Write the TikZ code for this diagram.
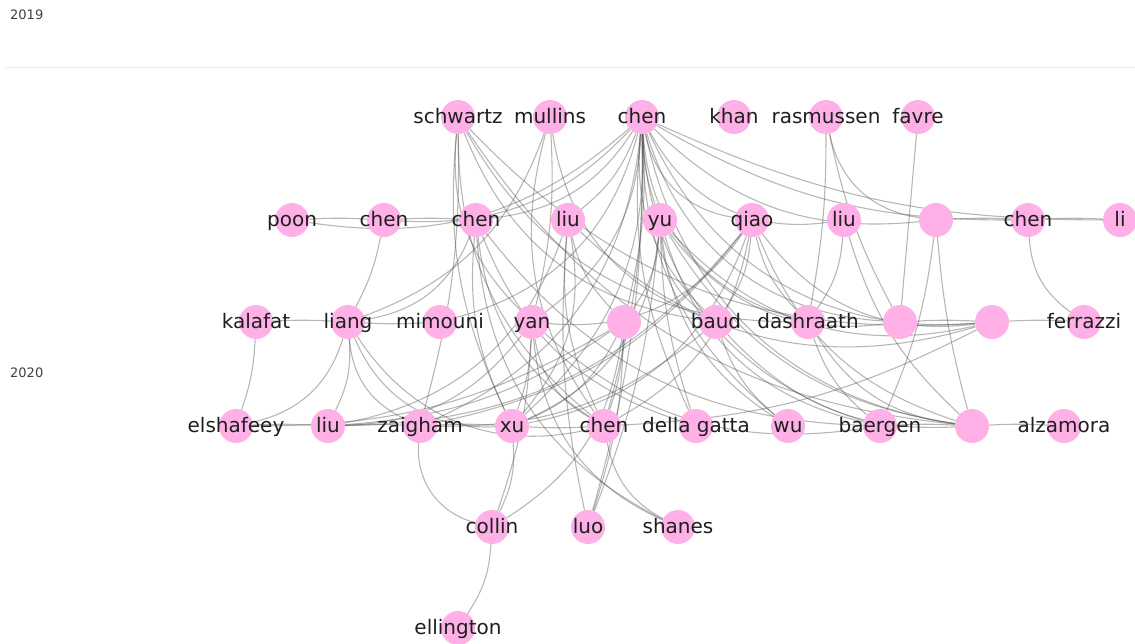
\documentclass[tikz,border=0pt]{standalone}
\usepackage{fontspec}
\setmainfont{DejaVu Sans}
\usetikzlibrary{backgrounds}
\definecolor{authorpink}{HTML}{FFB0E6}
\tikzstyle{author}=[
	circle,
	fill=authorpink,
	minimum size=34pt,
	inner sep=0pt
]
\tikzstyle{every label}=[
	font=\fontsize{20}{23}\selectfont,
	text=black!88,
	text height=1.5ex,
	text depth=.3ex,
	inner sep=0pt,
	yshift=-3pt
]
\tikzstyle{link}=[
	draw=black!70,
	opacity=0.4,
	line width=1.1pt
]
\tikzstyle{year}=[
	font=\fontsize{13}{15}\selectfont,
	text=black!75,
	anchor=west,
	inner sep=0pt
]

\begin{document}
\begin{tikzpicture}[x=1pt, y=-1pt, bend angle=35]
\useasboundingbox (0,0) rectangle (1135,643);
\node [year] (y2019) at (10,15) {2019};
\node [year] (y2020) at (10,373) {2020};
\draw [black!8, line width=1pt] (5,67) -- (1135,67);

% 2019
\node [author, label=center:schwartz] (schwartz) at (458,117) {};
\node [author, label=center:mullins] (mullins) at (550,117) {};
\node [author, label=center:chen] (chen1) at (642,117) {};
\node [author, label=center:khan] (khan) at (734,117) {};
\node [author, label=center:rasmussen] (rasmussen) at (826,117) {};
\node [author, label=center:favre] (favre) at (918,117) {};

\node [author, label=center:poon] (poon) at (292,220) {};
\node [author, label=center:chen] (chen2) at (384,220) {};
\node [author, label=center:chen] (chen3) at (476,220) {};
\node [author, label=center:liu] (liu1) at (568,220) {};
\node [author, label=center:yu] (yu) at (660,220) {};
\node [author, label=center:qiao] (qiao) at (752,220) {};
\node [author, label=center:liu] (liu2) at (844,220) {};
\node [author] (anon1) at (936,220) {};
\node [author, label=center:chen] (chen4) at (1028,220) {};
\node [author, label=center:li] (li) at (1120,220) {};

% 2020
\node [author, label=center:kalafat] (kalafat) at (256,322) {};
\node [author, label=center:liang] (liang) at (348,322) {};
\node [author, label=center:mimouni] (mimouni) at (440,322) {};
\node [author, label=center:yan] (yan) at (532,322) {};
\node [author] (anon2) at (624,322) {};
\node [author, label=center:baud] (baud) at (716,322) {};
\node [author, label=center:dashraath] (dashraath) at (808,322) {};
\node [author] (anon3) at (900,322) {};
\node [author] (anon4) at (992,322) {};
\node [author, label=center:ferrazzi] (ferrazzi) at (1084,322) {};

\node [author, label=center:elshafeey] (elshafeey) at (236,426) {};
\node [author, label=center:liu] (liu3) at (328,426) {};
\node [author, label=center:zaigham] (zaigham) at (420,426) {};
\node [author, label=center:xu] (xu) at (512,426) {};
\node [author, label=center:chen] (chen5) at (604,426) {};
\node [author, label=center:della gatta] (dellagatta) at (696,426) {};
\node [author, label=center:wu] (wu) at (788,426) {};
\node [author, label=center:baergen] (baergen) at (880,426) {};
\node [author] (anon5) at (972,426) {};
\node [author, label=center:alzamora] (alzamora) at (1064,426) {};

\node [author, label=center:collin] (collin) at (492,527) {};
\node [author, label=center:luo] (luo) at (588,527) {};
\node [author, label=center:shanes] (shanes) at (678,527) {};
\node [author, label=center:ellington] (ellington) at (458,628) {};

\begin{pgfonlayer}{background}
\path [link] (chen1)
	edge [bend left=25] (poon)
	edge [bend left=25] (chen2)
	edge [bend left=25] (chen3)
	edge [bend left=15] (liu1)
	edge [bend left=30] (mimouni)
	edge [bend left=25] (yan)
	edge [bend left=25] (xu)
	edge [bend left=30] (zaigham)
	edge [bend left=8] (anon2)
	edge [bend left=8] (chen5)
	edge [bend left=8] (luo)
	edge [bend right=8] (yu)
	edge [bend right] (qiao)
	edge [bend right] (liu2)
	edge [bend right=25] (anon1)
	edge [bend right=15] (chen4)
	edge [bend right=12] (li)
	edge [bend right=25] (baud)
	edge [bend right] (dashraath)
	edge [bend right] (anon3)
	edge [bend right] (anon4)
	edge [bend right=15] (dellagatta)
	edge [bend right=25] (wu)
	edge [bend right] (baergen)
	edge [bend right] (anon5);
\path [link] (schwartz)
	edge [bend right=15] (xu)
	edge [bend right=25] (yan)
	edge [bend right=25] (chen5)
	edge [bend right=30] (baud)
	edge [bend right=30] (dashraath)
	edge [bend right=25] (anon4)
	edge [bend right=25] (anon5)
	edge [bend left=8] (zaigham);
\path [link] (mullins)
	edge [bend left=25] (liang)
	edge [bend left=8] (yan)
	edge [bend right=30] (baud)
	edge [bend right=25] (chen5);
\path [link] (rasmussen)
	edge [bend left=5] (dashraath)
	edge [bend right] (anon1)
	edge [bend right=8] (anon3);
\path [link] (favre) edge (anon3);

\path [link] (poon) edge [bend left=3] (chen2);
\path [link] (chen2)
	edge [bend left=3] (chen3)
	edge [bend left=8] (liang);
\path [link] (chen3)
	edge [bend left=30] (liang)
	edge [bend right=15] (xu)
	edge [bend right=25] (chen5)
	edge [bend right=30] (shanes)
	edge [bend right=25] (baergen)
	edge [bend right=25] (dellagatta);
\path [link] (liu1)
	edge [bend left=25] (xu)
	edge [bend left=30] (liu3)
	edge [bend right=15] (chen5)
	edge [bend right=8] (luo)
	edge [bend right=30] (anon4)
	edge [bend right=15] (anon2);
\path [link] (yu)
	edge [bend left=15] (anon2)
	edge [bend left=30] (xu)
	edge [bend left=8] (luo)
	edge [bend right=25] (baud)
	edge [bend right=8] (dellagatta)
	edge [bend right=25] (wu)
	edge [bend right=30] (baergen)
	edge [bend right=30] (anon3)
	edge [bend right=30] (anon4)
	edge [bend right=25] (anon5);
\path [link] (qiao)
	edge [bend left=15] (baud)
	edge [bend right=15] (dashraath)
	edge [bend left=30] (xu)
	edge [bend left=25] (liu3)
	edge [bend left=25] (chen5)
	edge [bend left=30] (yan)
	edge [bend left=20] (zaigham)
	edge [bend right=30] (anon4)
	edge [bend right=25] (anon5);
\path [link] (liu2)
	edge [bend left=15] (dashraath)
	edge [bend right=15] (anon5);
\path [link] (anon1)
	edge [bend left=3] (chen4)
	edge [bend left=8] (baergen)
	edge [bend right=5] (anon5);
\path [link] (chen4)
	edge [bend left=3] (li)
	edge [bend right=25] (ferrazzi);

\path [link] (kalafat)
	edge [bend left=3] (liang)
	edge [bend left=8] (elshafeey);
\path [link] (liang)
	edge [bend right=3] (mimouni)
	edge [bend left=15] (liu3)
	edge [bend left=30] (elshafeey)
	edge [bend right=30] (zaigham)
	edge [bend right] (xu)
	edge [bend right] (chen5);
\path [link] (yan)
	edge [bend left=8] (collin)
	edge [bend left=8] (xu)
	edge [bend left=25] (liu3)
	edge [bend right=25] (chen5)
	edge [bend right=25] (baergen)
	edge [bend right=30] (shanes);
\path [link] (anon2)
	edge [bend left=20] (xu)
	edge [bend left=8] (chen5)
	edge [bend left=8] (luo)
	edge [bend left=25] (collin)
	edge [bend left=15] (elshafeey)
	edge [bend left=15] (liu3);
\path [link] (baud)
	edge [bend left=20] (zaigham)
	edge [bend right=15] (wu)
	edge [bend right=25] (anon5);
\path [link] (dashraath)
	edge [bend right=15] (baergen)
	edge [bend right=25] (anon5);
\path [link] (anon3) edge [bend left=3] (anon4);
\path [link] (anon4)
	edge [bend left=3] (ferrazzi)
	edge [bend left=12] (chen5);

\path [link] (elshafeey) edge [bend left=3] (liu3);
\path [link] (liu3) edge [bend left=3] (zaigham);
\path [link] (zaigham)
	edge [bend left=3] (xu)
	edge [bend right=40] (collin);
\path [link] (xu)
	edge [bend right=3] (chen5)
	edge [bend left=15] (collin);
\path [link] (baergen) edge [bend left=3] (anon5);
\path [link] (anon5) edge [bend left=3] (alzamora);
\path [link] (collin) edge [bend left=15] (ellington);
\path [link] (chen5) edge [bend right=25] (shanes);
\end{pgfonlayer}
\end{tikzpicture}
\end{document}
